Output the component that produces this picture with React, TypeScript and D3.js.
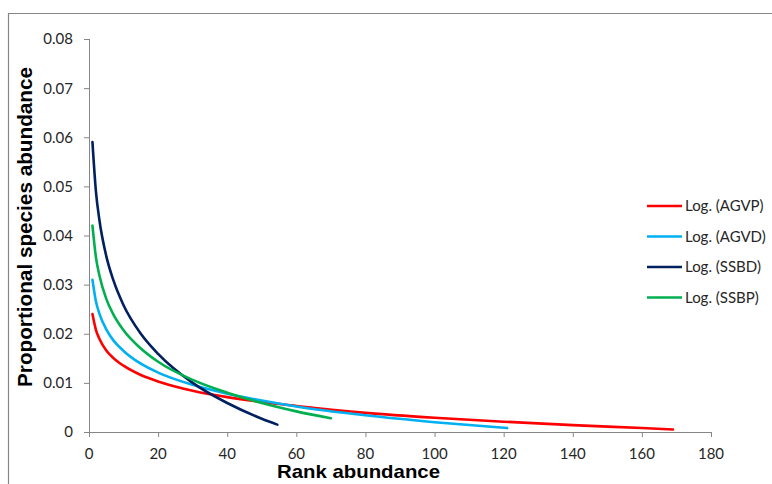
import React from "react";
import * as d3 from "d3";

const xTicks = [0, 20, 40, 60, 80, 100, 120, 140, 160, 180];
const yTicks = [0, 0.01, 0.02, 0.03, 0.04, 0.05, 0.06, 0.07, 0.08];
const yTickLabels = ["0", "0.01", "0.02", "0.03", "0.04", "0.05", "0.06", "0.07", "0.08"];

const agvpX = [1, 2, 3, 5, 7, 10, 15, 20, 30, 40, 50, 60, 80, 100, 120, 140, 160, 169];
const agvpY = [0.024, 0.0208, 0.019, 0.0166, 0.0151, 0.0135, 0.0116, 0.0103, 0.0084, 0.0071, 0.0061, 0.0053, 0.0039, 0.0029, 0.0021, 0.0014, 0.0008, 0.0005];

const agvdX = [1, 2, 3, 5, 7, 10, 15, 20, 30, 40, 50, 60, 80, 100, 121];
const agvdY = [0.031, 0.0266, 0.0241, 0.0209, 0.0187, 0.0165, 0.0139, 0.0121, 0.0096, 0.0078, 0.0064, 0.0052, 0.0034, 0.002, 0.0008];

const ssbdX = [1, 2, 3, 5, 7, 10, 15, 20, 30, 40, 50, 54.5];
const ssbdY = [0.059, 0.049, 0.0432, 0.0358, 0.031, 0.0258, 0.02, 0.0159, 0.01, 0.0059, 0.0027, 0.0015];

const ssbpX = [1, 2, 3, 5, 7, 10, 15, 20, 30, 40, 50, 60, 70];
const ssbpY = [0.042, 0.0356, 0.0319, 0.0271, 0.024, 0.0207, 0.017, 0.0143, 0.0106, 0.008, 0.0059, 0.0042, 0.0028];

const seriesNames = ["Log. (AGVP)", "Log. (AGVD)", "Log. (SSBD)", "Log. (SSBP)"];
const seriesColors = ["#FF0000", "#00B0F0", "#002060", "#00B050"];
const seriesXs = [agvpX, agvdX, ssbdX, ssbpX];
const seriesYs = [agvpY, agvdY, ssbdY, ssbpY];

const W = 772;
const H = 484;
const left = 89;
const right = 711;
const top = 39;
const bottom = 432;
const font = "Lato, 'Open Sans', sans-serif";
const titleFont = "'Liberation Sans', Arial, sans-serif";
const axisColor = "#868686";
const textColor = "#262626";

export default function App() {
  const x = d3.scaleLinear().domain([0, 180]).range([left, right]);
  const y = d3.scaleLinear().domain([0, 0.08]).range([bottom, top]);
  const line = d3
    .line<[number, number]>()
    .x((d) => x(d[0]))
    .y((d) => y(d[1]))
    .curve(d3.curveMonotoneX);

  return (
    <svg
      width={W}
      height={H}
      style={{ position: "absolute", left: 0, top: 0, display: "block" }}
    >
      <rect x={0} y={0} width={W} height={H} fill="#fff" />
      <path d={`M8.5,${H} V13.5 H${W}`} fill="none" stroke={axisColor} strokeWidth={1.2} />

      {/* y axis */}
      <line x1={left + 0.5} x2={left + 0.5} y1={top} y2={bottom} stroke={axisColor} strokeWidth={1} />
      {yTicks.map((t, i) => (
        <g key={"y" + i}>
          <line x1={left - 5} x2={left + 0.5} y1={y(t) + 0.5} y2={y(t) + 0.5} stroke={axisColor} strokeWidth={1} />
          <text
            x={73}
            y={y(t)}
            dy="0.36em"
            textAnchor="end"
            fontFamily={font}
            fontSize={15}
            fill={textColor}
          >
            {yTickLabels[i]}
          </text>
        </g>
      ))}

      {/* x axis */}
      <line x1={left} x2={right} y1={bottom + 0.5} y2={bottom + 0.5} stroke={axisColor} strokeWidth={1} />
      {xTicks.map((t, i) => (
        <g key={"x" + i}>
          <line x1={x(t) + 0.5} x2={x(t) + 0.5} y1={bottom} y2={bottom + 5} stroke={axisColor} strokeWidth={1} />
          <text
            x={x(t)}
            y={459}
            textAnchor="middle"
            fontFamily={font}
            fontSize={15}
            fill={textColor}
          >
            {t}
          </text>
        </g>
      ))}

      {/* series */}
      {seriesXs.map((xs, i) => {
        const pts: [number, number][] = xs.map((v, j) => [v, seriesYs[i][j]]);
        return (
          <path
            key={"s" + i}
            d={line(pts) || ""}
            fill="none"
            stroke={seriesColors[i]}
            strokeWidth={2.6}
            strokeLinecap="round"
          />
        );
      })}

      {/* legend */}
      {seriesNames.map((n, i) => {
        const ly = 206 + i * 30.5;
        return (
          <g key={"l" + i}>
            <line x1={647} x2={682} y1={ly} y2={ly} stroke={seriesColors[i]} strokeWidth={2.6} />
            <text x={685} y={ly} dy="0.36em" fontFamily={font} fontSize={15} fill={textColor}>
              {n}
            </text>
          </g>
        );
      })}

      {/* axis titles */}
      <text
        x={277}
        y={478}
        fontFamily={titleFont}
        fontSize={19}
        fontWeight="bold"
        fill="#000"
        textLength={163}
        lengthAdjust="spacingAndGlyphs"
      >
        Rank abundance
      </text>
      <text
        transform={`translate(32,387) rotate(-90)`}
        fontFamily={titleFont}
        fontSize={20}
        fontWeight="bold"
        fill="#000"
        textLength={320}
        lengthAdjust="spacingAndGlyphs"
      >
        Proportional species abundance
      </text>
    </svg>
  );
}
